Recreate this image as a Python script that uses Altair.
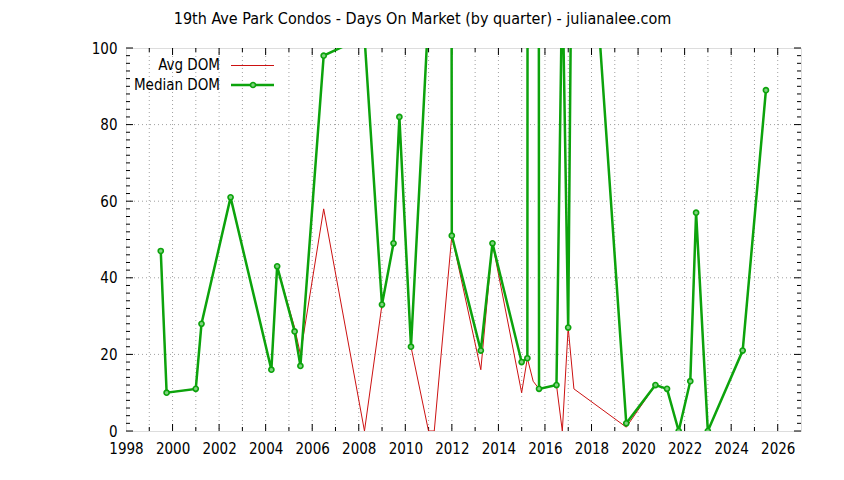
import altair as alt
import pandas as pd

# ---------------- data ----------------
dates = [
    "1999-06-30", "1999-09-30", "2000-12-31", "2001-03-31", "2002-06-30",
    "2004-03-31", "2004-06-30", "2005-03-31", "2005-06-30", "2006-06-30",
    "2008-03-31", "2008-12-31", "2009-06-30", "2009-09-30", "2010-03-31",
    "2010-12-31", "2011-03-31", "2011-12-31", "2013-03-31", "2013-09-30",
    "2014-12-31", "2015-03-31", "2015-06-30", "2015-09-30", "2016-06-30",
    "2016-09-30", "2016-12-31", "2017-03-31", "2019-06-30", "2020-09-30",
    "2021-03-31", "2021-09-30", "2022-03-31", "2022-06-30", "2022-12-31",
    "2024-06-30", "2025-06-30",
]
avg_dom = [
    47, 10, 11, 28, 61,
    16, 43, 27, 20, 58,
    0, 33, 49, 82, 22,
    0, 0, 51, 16, 49,
    10, 19, 13, 11, 12,
    0, 27, 11, 1, 12,
    11, 0, 13, 57, 0,
    21, 89,
]
median_dom = [
    47, 10, 11, 28, 61,
    16, 43, 26, 17, 98,
    103, 33, 49, 82, 22,
    109, 5000, 51, 21, 49,
    18, 19, 3000, 11, 12,
    120, 27, 200, 2, 12,
    11, 0, 13, 57, 0,
    21, 89,
]

title_text = "19th Ave Park Condos - Days On Market (by quarter) - julianalee.com"
legend_labels = ["Avg DOM", "Median DOM"]

x_domain = [1998, 2027]
y_domain = [0, 100]
x_label_years = list(range(1998, 2027, 2))
x_major_ticks = list(range(2000, 2027, 2))
x_minor_ticks = list(range(1999, 2027, 2))
x_grid_years = list(range(1999, 2027))
y_label_values = [0, 20, 40, 60, 80, 100]
y_grid_values = [20, 40, 60, 80]
y_minor_ticks = [v for v in range(2, 100, 2) if v % 20 != 0]

# ---------------- styling ----------------
W, H = 675, 383
RED = "#cc1111"
GREEN = "#0ca30c"
GRID = "#a0a0a0"
FONT = "DejaVu Sans Condensed"
FS = 15
TITLE_FS = 16


def decimal_year(s):
    ts = pd.Timestamp(s)
    days = 366 if ts.is_leap_year else 365
    return ts.year + (ts.dayofyear - 1) / days


df = pd.DataFrame({
    "year": [decimal_year(d) for d in dates],
    "avg": avg_dom,
    "median": median_dom,
})

xs = alt.Scale(domain=x_domain, nice=False, zero=False)
ys = alt.Scale(domain=y_domain, nice=False, zero=False)

x_axis = alt.Axis(values=x_label_years, format="d", grid=False, ticks=False,
                  domain=False, labelPadding=10, labelFlush=False,
                  labelOverlap=False, title=None, labelFont=FONT,
                  labelFontSize=FS, labelColor="black")
y_axis = alt.Axis(values=y_label_values, format="d", grid=False, ticks=False,
                  domain=False, labelPadding=9, labelOverlap=False, title=None,
                  labelFont=FONT, labelFontSize=FS, labelColor="black")


def vrules(vals, y0, y1, **kw):
    return alt.Chart(pd.DataFrame({"year": vals})).mark_rule(**kw).encode(
        x=alt.X("year:Q", scale=xs, axis=x_axis),
        y=alt.value(y0), y2=alt.value(y1))


def hrules(vals, x0, x1, **kw):
    return alt.Chart(pd.DataFrame({"days": vals})).mark_rule(**kw).encode(
        y=alt.Y("days:Q", scale=ys, axis=y_axis),
        x=alt.value(x0), x2=alt.value(x1))


grid_style = dict(color=GRID, strokeWidth=1, strokeDash=[1, 3])
tick_style = dict(color="black", strokeWidth=1)

layers = [
    vrules(x_grid_years, 0, H, **grid_style),
    hrules(y_grid_values, 0, W, **grid_style),
    # inward ticks
    vrules(x_major_ticks, H, H - 7, **tick_style),
    vrules(x_minor_ticks, H, H - 4, **tick_style),
    vrules(x_major_ticks, 0, 7, **tick_style),
    vrules(x_minor_ticks, 0, 4, **tick_style),
    hrules(y_label_values, 0, 7, **tick_style),
    hrules(y_minor_ticks, 0, 4, **tick_style),
    hrules(y_label_values, W, W - 7, **tick_style),
    hrules(y_minor_ticks, W, W - 4, **tick_style),
]

long_avg = df[["year", "avg"]].rename(columns={"avg": "days"})
long_med = df[["year", "median"]].rename(columns={"median": "days"})

avg_line = alt.Chart(long_avg).mark_line(color=RED, strokeWidth=1, clip=True).encode(
    x=alt.X("year:Q", scale=xs, axis=x_axis),
    y=alt.Y("days:Q", scale=ys, axis=y_axis),
)
med_line = alt.Chart(long_med).mark_line(color=GREEN, strokeWidth=2.5, clip=True).encode(
    x=alt.X("year:Q", scale=xs, axis=x_axis),
    y=alt.Y("days:Q", scale=ys, axis=y_axis),
)
med_pts = alt.Chart(long_med).mark_point(shape="circle", filled=True, fill="#7fd27f",
                                         stroke=GREEN, strokeWidth=1.6, size=26,
                                         opacity=1, clip=True).encode(
    x=alt.X("year:Q", scale=xs, axis=x_axis),
    y=alt.Y("days:Q", scale=ys, axis=y_axis),
)

layers += [avg_line, med_line, med_pts]


def label(text, x, y, align):
    return alt.Chart(pd.DataFrame({"t": [text]})).mark_text(
        align=align, baseline="middle", font=FONT, fontSize=FS, color="black"
    ).encode(text="t:N", x=alt.value(x), y=alt.value(y))


leg_red = alt.Chart(pd.DataFrame({"a": [0]})).mark_rule(color=RED, strokeWidth=1).encode(
    x=alt.value(105), x2=alt.value(148), y=alt.value(17.5))
leg_green = alt.Chart(pd.DataFrame({"a": [0]})).mark_rule(color=GREEN, strokeWidth=2.5).encode(
    x=alt.value(105), x2=alt.value(148), y=alt.value(37))
leg_pt = alt.Chart(pd.DataFrame({"a": [0]})).mark_point(
    shape="circle", filled=True, fill="#7fd27f", stroke=GREEN, strokeWidth=1.6,
    size=26, opacity=1).encode(x=alt.value(127), y=alt.value(37))

title = alt.Chart(pd.DataFrame({"t": [title_text]})).mark_text(
    align="center", baseline="alphabetic", font=FONT, fontSize=TITLE_FS, color="black"
).encode(text="t:N", x=alt.value(296.5), y=alt.value(-24))

layers += [label(legend_labels[0], 94, 17, "right"),
           label(legend_labels[1], 94, 37, "right"),
           leg_red, leg_green, leg_pt, title]

chart = alt.layer(*layers).properties(
    width=W, height=H,
    autosize=alt.AutoSizeParams(type="none"),
    padding={"left": 118, "top": 40, "right": 30, "bottom": 36},
).configure_view(
    stroke="black", strokeWidth=1
).configure(background="white")

chart.save("out.html", embed_options={"renderer": "svg", "actions": False})
